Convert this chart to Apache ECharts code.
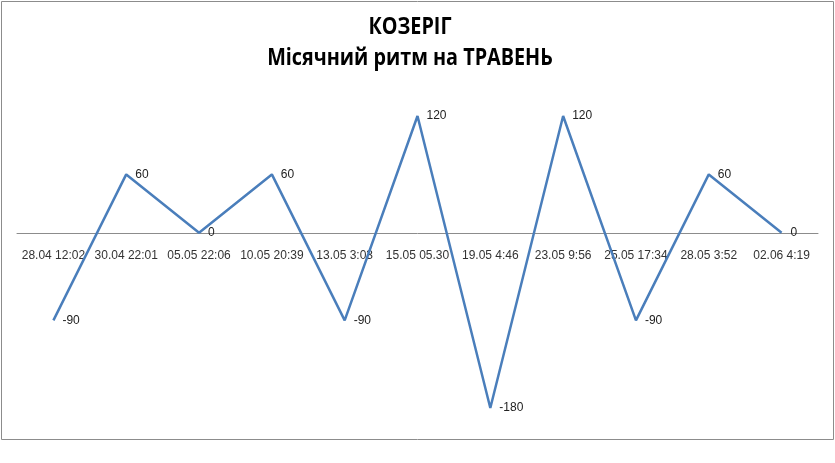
<!DOCTYPE html>
<html><head><meta charset="utf-8">
<script src="https://cdn.jsdelivr.net/npm/echarts@6/dist/echarts.min.js"></script>
<style>html,body{margin:0;padding:0;background:#fff}#c{width:835px;height:463px}</style>
</head><body><div id="c"></div>
<script>
const titleLines = ['КОЗЕРІГ', 'Місячний ритм на ТРАВЕНЬ'];
const categories = ['28.04 12:02','30.04 22:01','05.05 22:06','10.05 20:39','13.05 3:03','15.05 05.30','19.05 4:46','23.05 9:56','25.05 17:34','28.05 3:52','02.06 4:19'];
const values = [-90, 60, 0, 60, -90, 120, -180, 120, -90, 60, 0];

const hidden = {axisLine: {show: false}, axisTick: {show: false}, axisLabel: {show: false}, splitLine: {show: false}};
const titleFont = 'bold 23px "Open Sans", sans-serif';
const chart = echarts.init(document.getElementById('c'), null, {renderer:'canvas'});
chart.setOption({
  backgroundColor: '#fff',
  animation: false,
  graphic: [{
    type: 'rect', shape: {x: 1.5, y: 1.5, width: 832, height: 438},
    style: {fill: 'none', stroke: '#8c8c8c', lineWidth: 1}, silent: true, z: -1
  }, {
    type: 'text', x: 410, y: 27, scaleX: 0.86, silent: true,
    style: {text: titleLines[0], font: titleFont, fill: '#000', textAlign: 'center', textVerticalAlign: 'middle'}
  }, {
    type: 'text', x: 410, y: 58, scaleX: 0.86, silent: true,
    style: {text: titleLines[1], font: titleFont, fill: '#000', textAlign: 'center', textVerticalAlign: 'middle'}
  }],
  grid: [
    {left: 17, right: 17, top: 116, bottom: 55, containLabel: false},
    {left: 17, right: 17, top: 116, bottom: 230, containLabel: false}
  ],
  xAxis: [{
    type: 'category', data: categories, boundaryGap: true, gridIndex: 0,
    axisLine: {onZero: true, lineStyle: {color: '#8c8c8c', width: 1}},
    axisTick: {show: false}, axisLabel: {show: false}, splitLine: {show: false}
  }, {
    type: 'category', data: categories, boundaryGap: true, gridIndex: 1,
    axisLine: {show: false}, axisTick: {show: false}, splitLine: {show: false},
    axisLabel: {interval: 0, margin: 17, fontFamily: 'Liberation Sans', fontSize: 12, color: '#333'}
  }],
  yAxis: [
    Object.assign({type: 'value', min: -180, max: 120, interval: 60, gridIndex: 0}, hidden),
    Object.assign({type: 'value', min: 0, max: 120, interval: 60, gridIndex: 1}, hidden)
  ],
  series: [{
    type: 'line', data: values, xAxisIndex: 0, yAxisIndex: 0,
    symbol: 'circle', symbolSize: 0, showSymbol: true,
    itemStyle: {color: '#4a7ebb'},
    lineStyle: {color: '#4a7ebb', width: 2.5},
    label: {show: true, position: 'right', distance: 9, fontFamily: 'Liberation Sans', fontSize: 12, color: '#222'}
  }]
});
</script></body></html>
